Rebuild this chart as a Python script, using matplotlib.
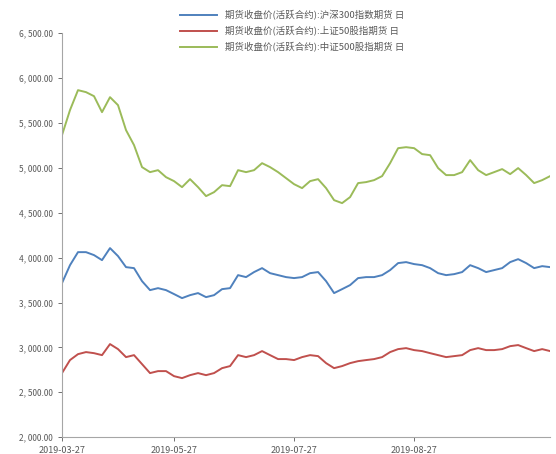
import matplotlib
matplotlib.use("Agg")
import matplotlib.pyplot as plt
from matplotlib.ticker import FuncFormatter, MultipleLocator

plt.rcParams["font.family"] = ["Noto Sans CJK SC", "DejaVu Sans"]

# 期货收盘价(活跃合约), 按交易日顺序读取
ic_vals = [5364, 5643, 5865, 5843, 5798, 5620, 5787, 5698, 5420, 5253,
           5008, 4952, 4974, 4896, 4852, 4785, 4874, 4785, 4685, 4729,
           4807, 4796, 4974, 4952, 4974, 5052, 5008, 4952, 4885, 4818,
           4774, 4852, 4874, 4774, 4640, 4607, 4674, 4830, 4841, 4863,
           4908, 5052, 5219, 5230, 5219, 5153, 5141, 4997, 4919, 4919,
           4952, 5086, 4974, 4919, 4952, 4986, 4930, 4997, 4919, 4830,
           4863, 4908]
if_vals = [3716, 3916, 4061, 4061, 4028, 3972, 4106, 4017, 3894, 3883,
           3738, 3638, 3660, 3638, 3594, 3549, 3582, 3605, 3560, 3582,
           3649, 3660, 3805, 3783, 3839, 3883, 3827, 3805, 3783, 3772,
           3783, 3827, 3839, 3738, 3605, 3649, 3694, 3772, 3783, 3783,
           3805, 3861, 3939, 3950, 3928, 3916, 3883, 3827, 3805, 3816,
           3839, 3916, 3883, 3839, 3861, 3883, 3950, 3983, 3939, 3883,
           3905, 3894]
ih_vals = [2714, 2859, 2925, 2948, 2936, 2914, 3037, 2981, 2892, 2914,
           2814, 2714, 2736, 2736, 2680, 2658, 2691, 2714, 2691, 2714,
           2769, 2792, 2914, 2892, 2914, 2959, 2914, 2870, 2870, 2859,
           2892, 2914, 2903, 2825, 2769, 2792, 2825, 2847, 2859, 2870,
           2892, 2948, 2981, 2992, 2970, 2959, 2936, 2914, 2892, 2903,
           2914, 2970, 2992, 2970, 2970, 2981, 3014, 3026, 2992, 2959,
           2981, 2959]

tick_idx = [0, 14, 29, 44]
tick_labels = ["2019-03-27", "2019-05-27", "2019-07-27", "2019-08-27"]

names = [
    "期货收盘价(活跃合约):沪深300指数期货 日",
    "期货收盘价(活跃合约):上证50股指期货 日",
    "期货收盘价(活跃合约):中证500股指期货 日",
]
colors = ["#4F81BD", "#C0504D", "#9BBB59"]

fig = plt.figure(figsize=(5.56, 4.54), dpi=100)
ax = fig.add_axes([0.1115, 0.037, 0.878, 0.89])

x = list(range(len(if_vals)))
for vals, name, c in zip([if_vals, ih_vals, ic_vals], names, colors):
    ax.plot(x, vals, color=c, lw=1.4, label=name)

ax.set_xlim(0, len(x) - 1)
ax.set_ylim(2000, 6500)
ax.yaxis.set_major_locator(MultipleLocator(500))
ax.yaxis.set_major_formatter(FuncFormatter(lambda v, p: f"{v:,.2f}".replace(",", ", ")))
ax.set_xticks(tick_idx)
ax.set_xticklabels(tick_labels)
ax.tick_params(axis="y", labelsize=6, colors="#595959", length=3, width=0.6)
ax.tick_params(axis="x", labelsize=6.5, colors="#595959", length=3, width=0.6)

for s in ["top", "right"]:
    ax.spines[s].set_visible(False)
for s in ["left", "bottom"]:
    ax.spines[s].set_color("#A6A6A6")
    ax.spines[s].set_linewidth(0.8)

fig.legend(loc="upper center", bbox_to_anchor=(0.525, 0.997), frameon=False,
           fontsize=6.8, handlelength=4, labelspacing=0.65, labelcolor="#595959")

fig.savefig("out.png", dpi=100)
